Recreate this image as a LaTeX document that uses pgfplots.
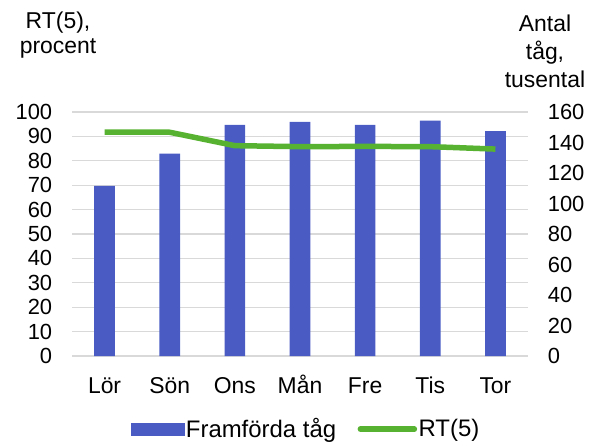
\documentclass[border=0pt]{standalone}
\usepackage{fontspec}
\setmainfont{Liberation Sans}
\usepackage{pgfplots}
\pgfplotsset{compat=1.18}
\definecolor{barblue}{RGB}{74,92,196}
\definecolor{linegreen}{RGB}{88,178,50}
\definecolor{gridgray}{RGB}{217,217,217}
\begin{document}
\fontsize{23}{26}\selectfont
\begin{tikzpicture}
\useasboundingbox (-72bp,-86bp) rectangle (517bp,356bp);
\pgfplotsset{common/.style={scale only axis, width=456bp, height=244bp,
  at={(0,0)}, anchor=south west, xmin=-0.5, xmax=6.5,
  axis line style={draw=none}, tick style={draw=none},
  /pgf/number format/assume math mode=true,
  ticklabel style={font=\fontsize{22}{26}\selectfont}}}
% axis 1: grid, left ticks, x labels
\begin{axis}[common, name=main, ymin=0, ymax=100, ytick={0,10,...,100},
  ymajorgrids, grid style={gridgray, line width=1.2bp},
  xtick={0,1,2,3,4,5,6}, xticklabels={Lör,Sön,Ons,Mån,Fre,Tis,Tor},
  xticklabel style={font=\fontsize{23}{26}\selectfont, anchor=base, yshift=-37bp},
  yticklabel style={anchor=east, xshift=-12bp}]
\end{axis}
% axis 2: bars, right ticks
\begin{axis}[common, ymin=0, ymax=160, ytick={0,20,...,160},
  yticklabel pos=right, xtick=\empty, yticklabel style={anchor=west, xshift=12bp}]
\addplot[ybar, bar width=20.7bp, fill=barblue, draw=none] coordinates {
(0,111.5) (1,132.7) (2,151.5) (3,153.6) (4,151.5) (5,154.3) (6,147.5)};
\end{axis}
% axis 3: line + legend
\begin{axis}[common, ymin=0, ymax=100, hide axis,
  legend style={at={(0.513,-0.3)}, anchor=center, draw=none, fill=none,
    font=\fontsize{24}{27}\selectfont, legend columns=-1,
    /tikz/every even column/.append style={column sep=20bp},
    nodes={inner sep=1.5bp}},
  legend cell align=left]
\addlegendimage{legend image code/.code={\fill[barblue] (0bp,-6bp) rectangle (53bp,6bp);}}
\addlegendentry{Framförda tåg}
\addplot[linegreen, line width=5.5bp, line join=round,
  legend image code/.code={\draw[linegreen, line width=5.5bp, line cap=round] (2bp,0bp) -- (56bp,0bp);}] coordinates {
(0,91.8) (1,91.7) (2,86.2) (3,85.8) (4,85.9) (5,85.8) (6,84.8)};
\addlegendentry{RT(5)}
\end{axis}
\node[anchor=north, align=center, inner sep=0pt, font=\fontsize{23}{25}\selectfont]
  at ([xshift=-14bp,yshift=100bp]main.north west) {RT(5),\\procent};
\node[anchor=north, align=center, inner sep=0pt, font=\fontsize{23}{28}\selectfont]
  at ([xshift=17bp,yshift=97bp]main.north east) {Antal\\tåg,\\tusental};
\end{tikzpicture}
\end{document}
